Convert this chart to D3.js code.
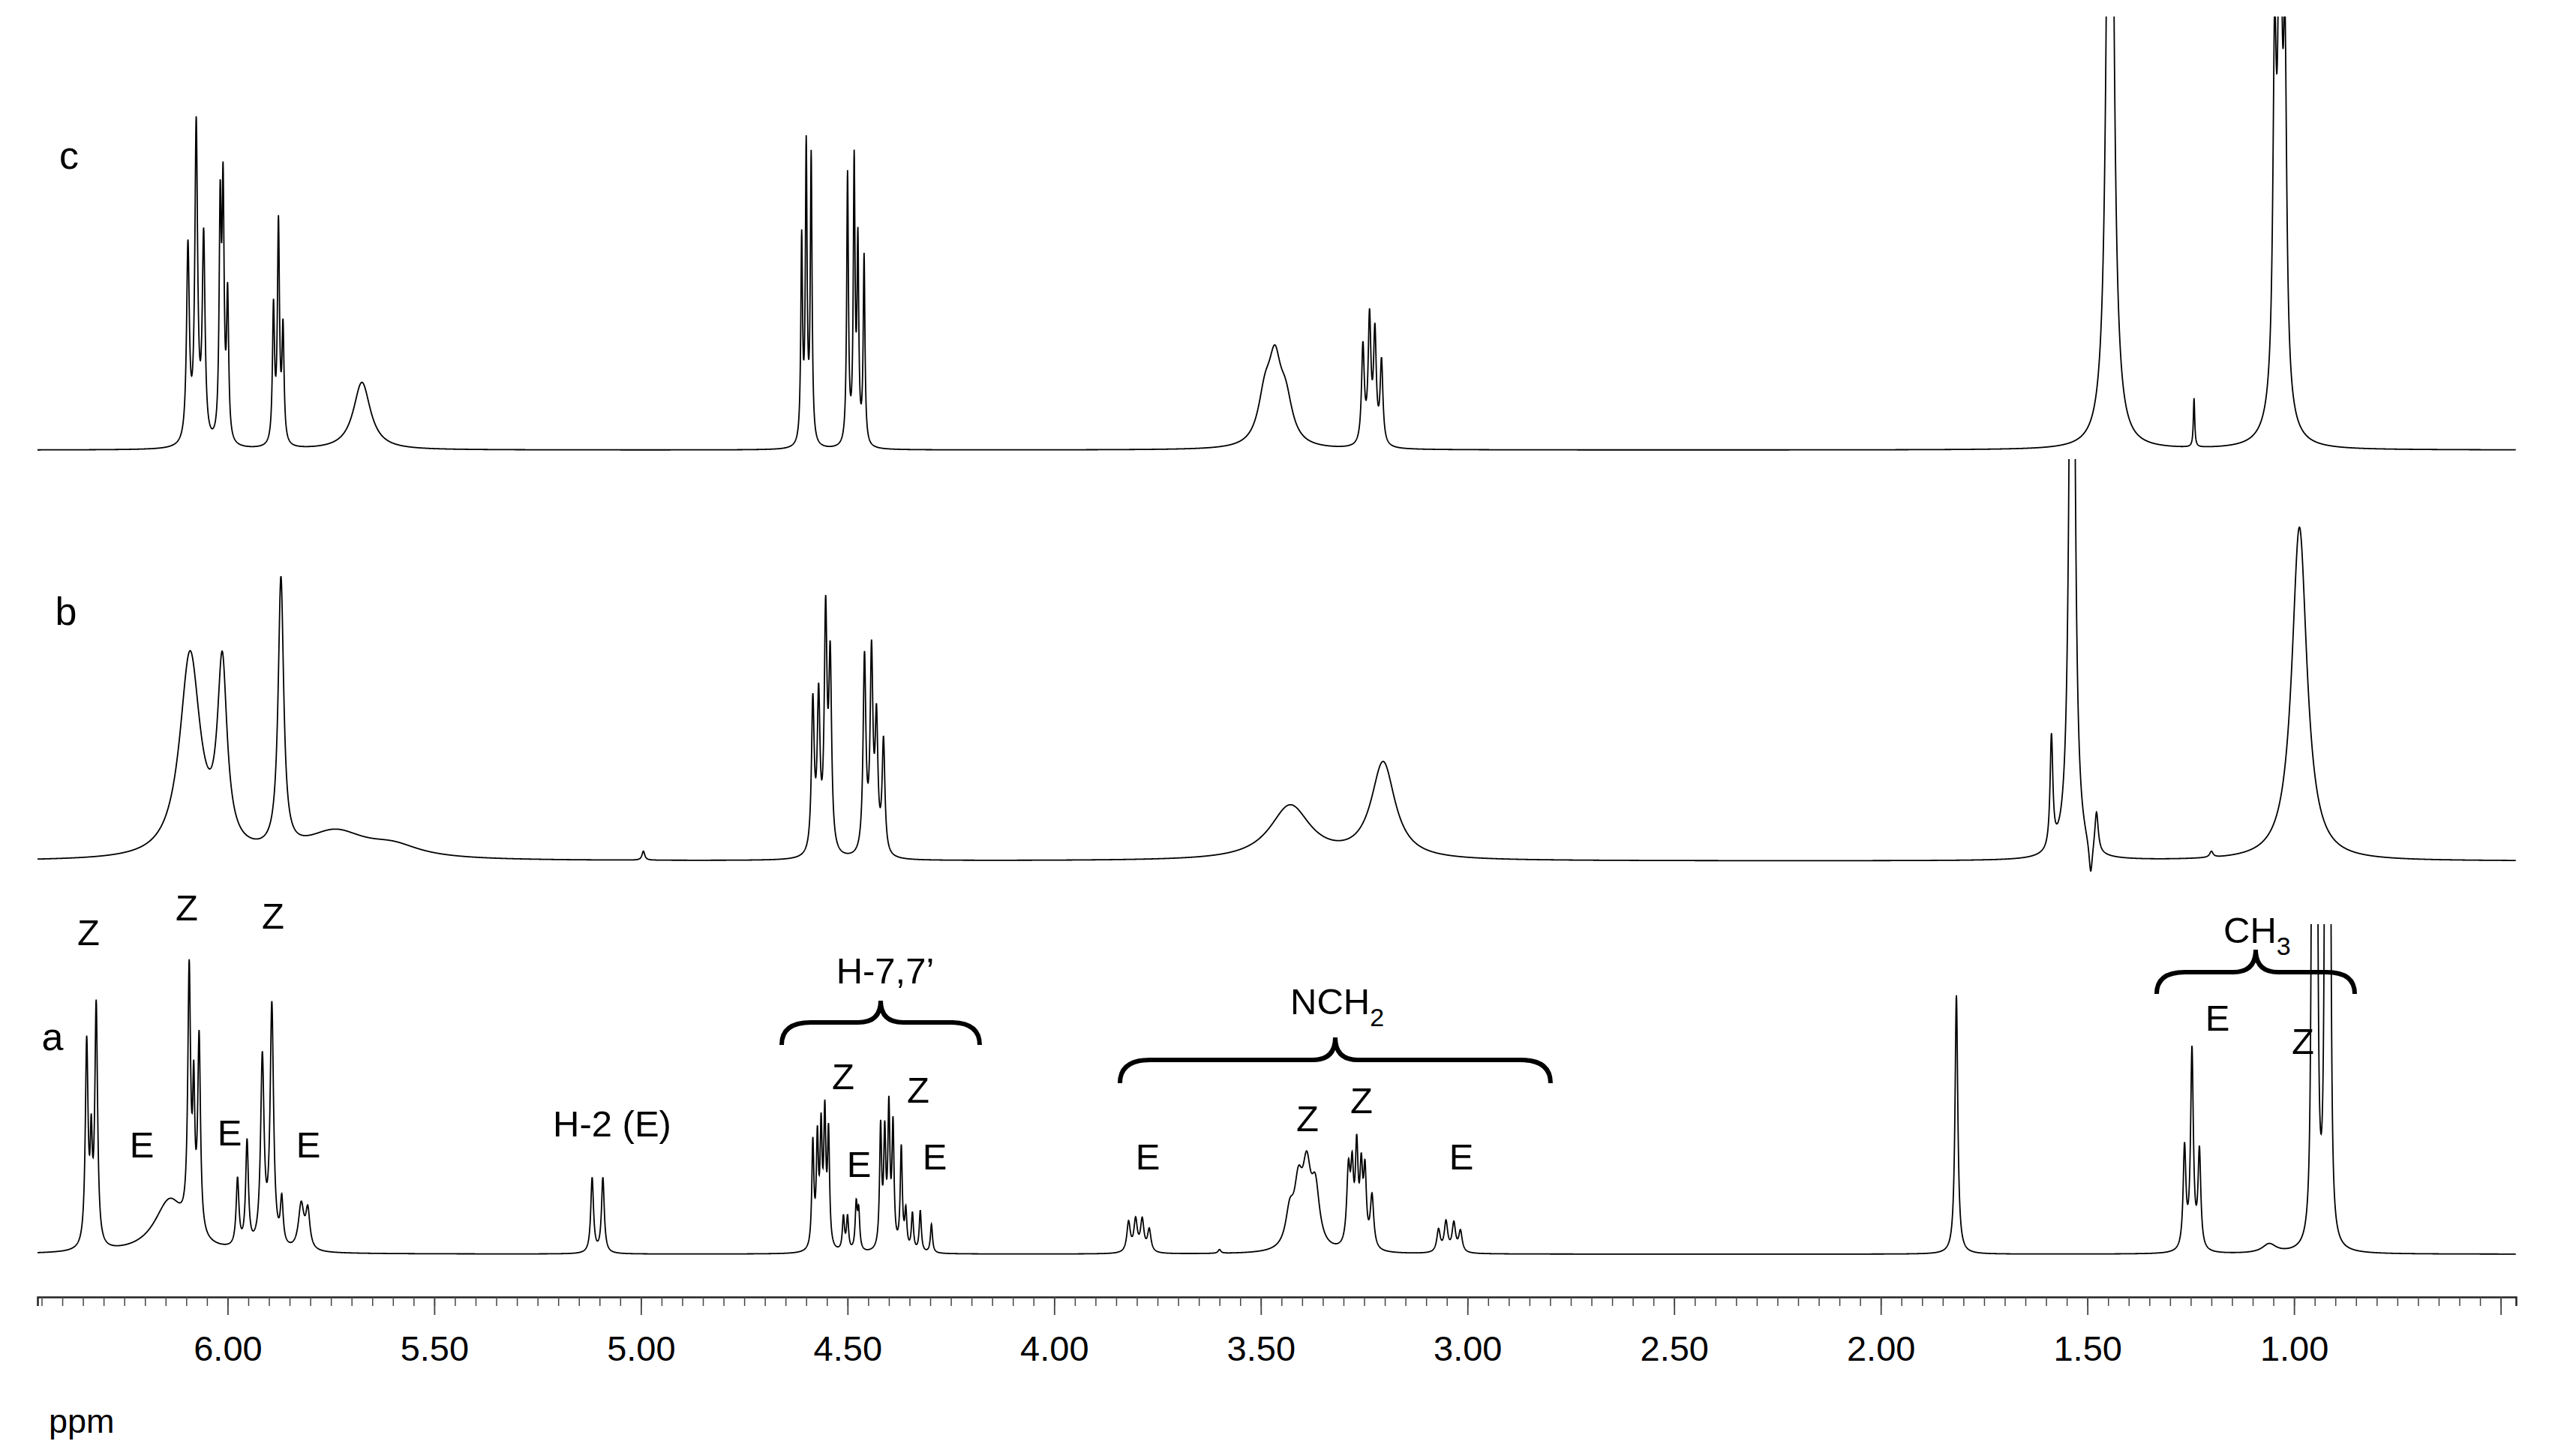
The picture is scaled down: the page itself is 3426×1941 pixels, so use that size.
<!DOCTYPE html>
<html>
<head>
<meta charset="utf-8">
<script src="https://cdn.jsdelivr.net/npm/d3@7"></script>
<style>
  body { margin: 0; background: #fff; }
  text { font-family: "Liberation Sans", Arial, sans-serif; fill: #000; }
</style>
</head>
<body>
<svg id="nmr" width="3426" height="1941"></svg>
<script>
// peak lists: [shift (ppm), intensity, half width (ppm)]
const peaksC = [
  [6.096, 260, 0.004], [6.076, 420, 0.004], [6.058, 270, 0.004],
  [6.018, 300, 0.003], [6.011, 320, 0.003], [6.000, 190, 0.003],
  [5.889, 180, 0.003], [5.877, 290, 0.003], [5.866, 150, 0.003],
  [5.675, 90, 0.025],
  [4.611, 270, 0.0025], [4.600, 390, 0.0025], [4.588, 380, 0.0025],
  [4.500, 360, 0.0025], [4.484, 370, 0.0025], [4.475, 260, 0.0025], [4.460, 250, 0.0025],
  [3.490, 60, 0.02], [3.466, 95, 0.018], [3.440, 55, 0.02],
  [3.253, 130, 0.004], [3.237, 165, 0.004], [3.224, 145, 0.004], [3.208, 110, 0.004],
  [1.445, 1400, 0.008],
  [1.242, 65, 0.002],
  [1.035, 70, 0.025],
  [1.047, 430, 0.005], [1.034, 700, 0.005], [1.022, 420, 0.005]
]

const peaksB = [
  [6.091, 270, 0.03], [6.013, 240, 0.014], [5.871, 360, 0.008],
  [5.740, 35, 0.09], [5.600, 15, 0.08],
  [4.994, 12, 0.004],
  [4.584, 200, 0.004], [4.570, 200, 0.004], [4.553, 310, 0.004], [4.542, 250, 0.004],
  [4.459, 260, 0.004], [4.442, 260, 0.004], [4.430, 170, 0.004], [4.413, 150, 0.004],
  [3.429, 72, 0.06], [3.204, 128, 0.035],
  [1.587, 150, 0.004], [1.537, 1400, 0.006],
  [1.492, -45, 0.005], [1.478, 55, 0.005],
  [1.200, 8, 0.005],
  [0.987, 445, 0.022]
]

const peaksA = [
  [6.341, 270, 0.004], [6.330, 120, 0.003], [6.318, 320, 0.004],
  [6.140, 70, 0.045],
  [6.093, 340, 0.004], [6.082, 170, 0.003], [6.069, 260, 0.004],
  [5.976, 90, 0.004], [5.953, 140, 0.004],
  [5.916, 250, 0.005], [5.893, 320, 0.005], [5.869, 60, 0.004],
  [5.822, 60, 0.008], [5.806, 50, 0.006],
  [5.118, 100, 0.004], [5.092, 100, 0.004],
  [4.584, 140, 0.003], [4.573, 140, 0.003], [4.564, 150, 0.003], [4.555, 170, 0.003], [4.546, 150, 0.003],
  [4.510, 45, 0.003], [4.500, 45, 0.003], [4.479, 60, 0.003], [4.473, 50, 0.003],
  [4.420, 160, 0.003], [4.410, 145, 0.003], [4.400, 180, 0.003], [4.390, 160, 0.003], [4.370, 135, 0.003],
  [4.359, 50, 0.003], [4.343, 50, 0.003], [4.324, 55, 0.003], [4.297, 38, 0.003],
  [3.820, 40, 0.005], [3.803, 42, 0.005], [3.787, 42, 0.005], [3.770, 30, 0.005],
  [3.600, 5, 0.004],
  [3.430, 45, 0.012], [3.409, 75, 0.012], [3.389, 95, 0.012], [3.368, 75, 0.012],
  [3.288, 100, 0.005], [3.279, 90, 0.004], [3.268, 125, 0.004], [3.257, 95, 0.004], [3.248, 95, 0.004], [3.231, 70, 0.005],
  [3.070, 30, 0.005], [3.052, 40, 0.005], [3.033, 38, 0.005], [3.017, 28, 0.005],
  [1.817, 345, 0.004],
  [1.265, 135, 0.004], [1.247, 265, 0.004], [1.229, 130, 0.004],
  [1.060, 12, 0.02],
  [0.956, 600, 0.003], [0.950, 600, 0.003], [0.945, 600, 0.003],
  [0.924, 600, 0.003], [0.920, 600, 0.003], [0.913, 600, 0.003]
]

const majorTicks = [6.0, 5.5, 5.0, 4.5, 4.0, 3.5, 3.0, 2.5, 2.0, 1.5, 1.0, 0.5]
const tickLabels = ['6.00', '5.50', '5.00', '4.50', '4.00', '3.50', '3.00', '2.50', '2.00', '1.50', '1.00', '']
const minorTicks = d3.range(130, 9, -1).map(d => d / 20).filter(d => d <= 6.46 && d >= 0.463)

const svg = d3.select('#nmr')

const x = d3.scaleLinear()
  .domain([6.46, 0.463])
  .range([50, 3354])

const grid = d3.range(6.46, 0.463, -0.0005)

const spectrum = peaks => grid.map(p => {
  let s = 0
  for (const [c, h, w] of peaks) s += h * w * w / ((p - c) * (p - c) + w * w)
  return [p, s]
})

// spectra: [name, peaks, baseline y, clip top]
const traces = [
  ['c', peaksC, 600, 22],
  ['b', peaksB, 1148, 612],
  ['a', peaksA, 1672, 1232]
]

traces.forEach(([name, peaks, base, top]) => {
  const y = d3.scaleLinear().domain([0, 1000]).range([base, base - 1000])
  svg.append('clipPath').attr('id', 'clip' + name)
    .append('rect').attr('x', 0).attr('y', top).attr('width', 3426).attr('height', 1941 - top)
  svg.append('path')
    .datum(spectrum(peaks))
    .attr('clip-path', `url(#clip${name})`)
    .attr('fill', 'none')
    .attr('stroke', '#000')
    .attr('stroke-width', 1.8)
    .attr('d', d3.line().x(d => x(d[0])).y(d => y(d[1])))
})

// axis
const axisY = 1729
const minorAxis = d3.axisBottom(x).tickValues(minorTicks).tickSize(12).tickFormat('')
const majorAxis = d3.axisBottom(x).tickValues(majorTicks).tickSize(24).tickPadding(28)
  .tickFormat((d, i) => tickLabels[i])

const gMinor = svg.append('g').attr('transform', `translate(0,${axisY})`).call(minorAxis)
gMinor.select('.domain').attr('stroke', '#222').attr('stroke-width', 2.5)
gMinor.selectAll('.tick line').attr('stroke', '#444').attr('stroke-width', 1.5)

const gMajor = svg.append('g').attr('transform', `translate(0,${axisY})`).call(majorAxis)
gMajor.select('.domain').remove()
gMajor.selectAll('.tick line').attr('stroke', '#444').attr('stroke-width', 1.8)
gMajor.selectAll('.tick text')
  .attr('font-size', 47)
  .attr('font-family', '"Liberation Sans", Arial, sans-serif')
  .attr('fill', '#000')

svg.append('text').text('ppm').attr('x', 65).attr('y', 1910).attr('font-size', 45)

// trace labels
const traceLabels = [['c', 92, 225], ['b', 88, 833], ['a', 70, 1400]]
svg.selectAll('.tl').data(traceLabels).enter().append('text')
  .attr('x', d => d[1]).attr('y', d => d[2])
  .attr('text-anchor', 'middle').attr('font-size', 52)
  .text(d => d[0])

// peak annotations [text, x center, baseline]
const notes = [
  ['Z', 118, 1260], ['Z', 249, 1227], ['Z', 364, 1238],
  ['E', 189, 1543], ['E', 306, 1527], ['E', 411, 1543],
  ['H-2 (E)', 816, 1515],
  ['H-7,7’', 1180, 1311],
  ['Z', 1124, 1452], ['Z', 1224, 1470], ['E', 1145, 1569], ['E', 1246, 1559],
  ['E', 1530, 1559], ['Z', 1743, 1508], ['Z', 1815, 1484], ['E', 1948, 1559],
  ['E', 2956, 1374], ['Z', 3070, 1405]
]
svg.selectAll('.note').data(notes).enter().append('text')
  .attr('x', d => d[1]).attr('y', d => d[2])
  .attr('text-anchor', 'middle').attr('font-size', 49)
  .text(d => d[0])

const nch = svg.append('text').attr('x', 1720).attr('y', 1352).attr('font-size', 49)
nch.append('tspan').text('NCH')
nch.append('tspan').text('2').attr('font-size', 34).attr('dy', 16)

const ch3 = svg.append('text').attr('x', 2964).attr('y', 1257).attr('font-size', 49)
ch3.append('tspan').text('CH')
ch3.append('tspan').text('3').attr('font-size', 34).attr('dy', 16)

// braces [x1, x2, top, ends, cusp]
const braces = [
  [1042, 1306, 1363, 1393, 1334],
  [1493, 2067, 1413, 1444, 1383],
  [2875, 3139, 1296, 1325, 1266]
]
svg.selectAll('.brace').data(braces).enter().append('path')
  .attr('fill', 'none').attr('stroke', '#000').attr('stroke-width', 6)
  .attr('d', ([x1, x2, t, e, c]) => {
    const m = (x1 + x2) / 2
    const r = Math.min(40, (e - t) * 1.3)
    return `M${x1},${e} Q${x1},${t} ${x1 + r},${t} L${m - 30},${t} Q${m},${t} ${m},${c}` +
      ` Q${m},${t} ${m + 30},${t} L${x2 - r},${t} Q${x2},${t} ${x2},${e}`
  })
</script>
</body>
</html>
